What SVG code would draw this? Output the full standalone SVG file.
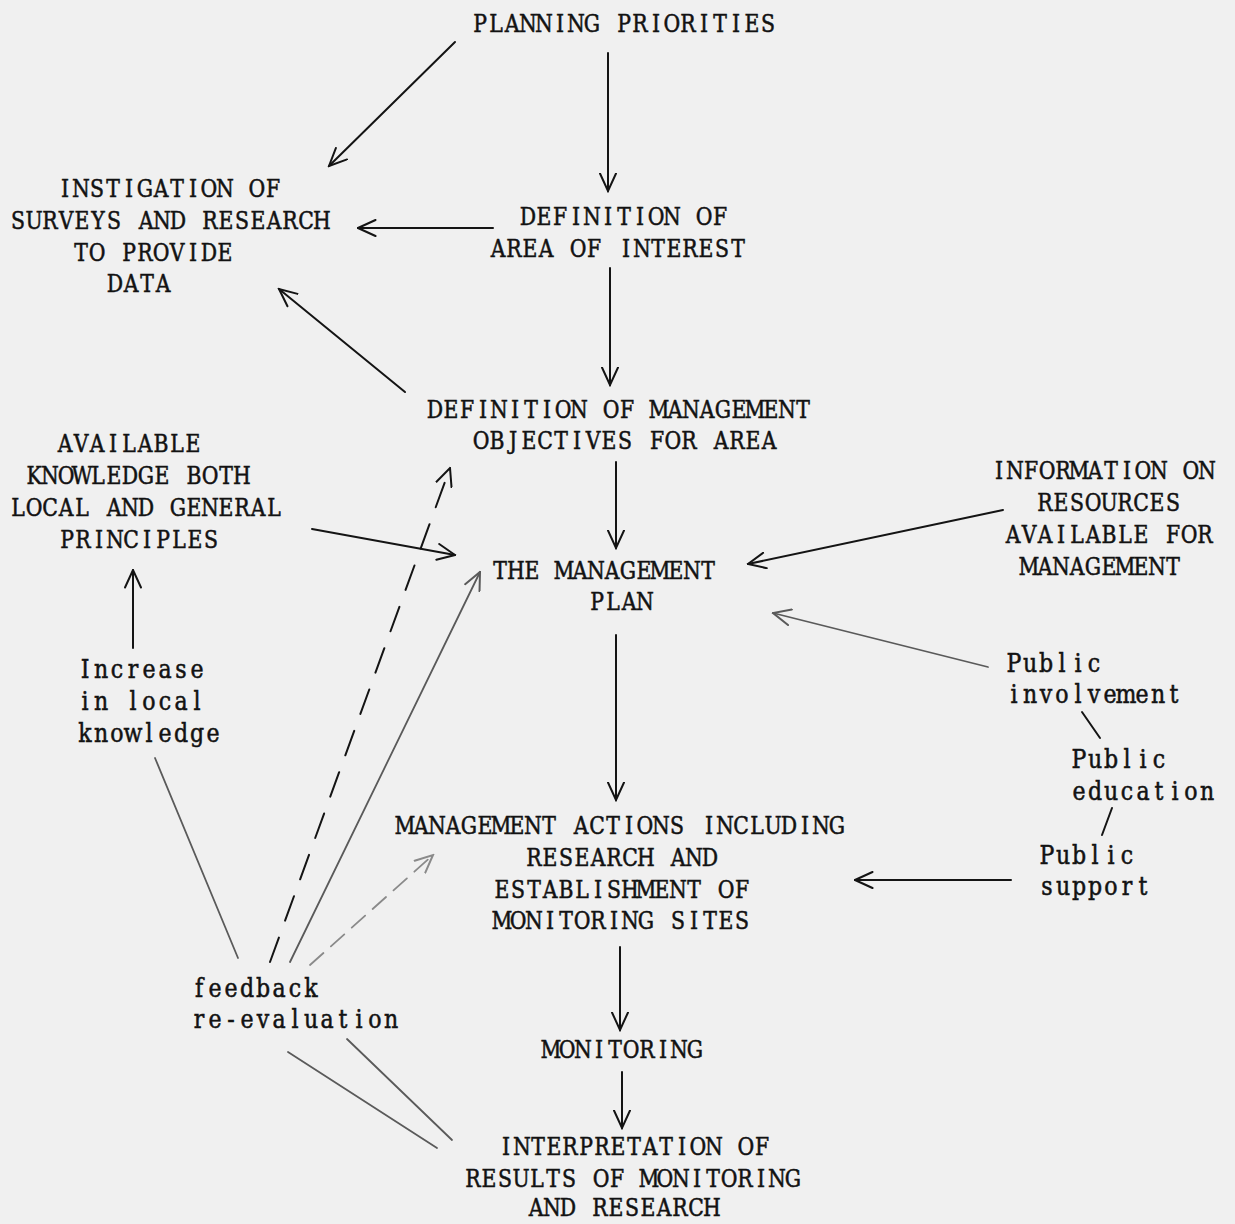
<svg xmlns="http://www.w3.org/2000/svg" width="1235" height="1224" viewBox="0 0 1235 1224">
<defs>
<style>
text{font-family:"DejaVu Serif","Liberation Serif",serif;font-size:24px;text-anchor:middle;fill:#121212;stroke:#121212;stroke-width:0.55px}
text.lo{font-size:26px}
.k{stroke:#141414;stroke-width:2;fill:none;stroke-linecap:round}
.g{stroke:#5a5a5a;stroke-width:1.8;fill:none;stroke-linecap:round}
.lg{stroke:#8a8a8a;stroke-width:1.8;fill:none;stroke-linecap:round}
</style>
<marker id="ak" viewBox="0 0 20 18" refX="18.5" refY="9" markerWidth="20" markerHeight="18" markerUnits="userSpaceOnUse" orient="auto">
<path d="M1,1 L18.5,9 L1,17" fill="none" stroke="#141414" stroke-width="2" stroke-linecap="round"/>
</marker>
<marker id="ag" viewBox="0 0 20 18" refX="18.5" refY="9" markerWidth="20" markerHeight="18" markerUnits="userSpaceOnUse" orient="auto">
<path d="M1,1 L18.5,9 L1,17" fill="none" stroke="#5a5a5a" stroke-width="2" stroke-linecap="round"/>
</marker>
<marker id="al" viewBox="0 0 20 18" refX="18.5" refY="9" markerWidth="20" markerHeight="18" markerUnits="userSpaceOnUse" orient="auto">
<path d="M1,1 L18.5,9 L1,17" fill="none" stroke="#8a8a8a" stroke-width="2" stroke-linecap="round"/>
</marker>
</defs>
<rect x="0" y="0" width="1235" height="1224" fill="#f0f0f0"/>

<g id="connectors">
<line class="k" x1="455" y1="42" x2="329" y2="166" marker-end="url(#ak)"/>
<line class="k" x1="608" y1="53" x2="608" y2="191" marker-end="url(#ak)"/>
<line class="k" x1="493" y1="228" x2="358" y2="228" marker-end="url(#ak)"/>
<line class="k" x1="610" y1="268" x2="610" y2="385" marker-end="url(#ak)"/>
<line class="k" x1="405" y1="392" x2="279" y2="289" marker-end="url(#ak)"/>
<line class="k" x1="616" y1="462" x2="616" y2="548" marker-end="url(#ak)"/>
<line class="k" x1="312" y1="529" x2="455" y2="555" marker-end="url(#ak)"/>
<line class="k" x1="1003" y1="510" x2="748" y2="564" marker-end="url(#ak)"/>
<line class="g" x1="988" y1="667" x2="773" y2="613" marker-end="url(#ag)"/>
<line class="k" x1="616" y1="635" x2="616" y2="800" marker-end="url(#ak)"/>
<line class="k" x1="1011" y1="880" x2="855" y2="880" marker-end="url(#ak)"/>
<line class="k" x1="620" y1="947" x2="620" y2="1030" marker-end="url(#ak)"/>
<line class="k" x1="622" y1="1072" x2="622" y2="1128" marker-end="url(#ak)"/>
<line class="k" x1="133" y1="648" x2="133" y2="570" marker-end="url(#ak)"/>
<line class="k" x1="1082" y1="712" x2="1100" y2="738"/>
<line class="k" x1="1112" y1="808" x2="1102" y2="835"/>
<line class="g" x1="238" y1="958" x2="155" y2="758"/>
<line class="k" x1="270" y1="962" x2="450" y2="468" stroke-dasharray="26 18" marker-end="url(#ak)"/>
<line class="g" x1="290" y1="962" x2="480" y2="572" marker-end="url(#ag)"/>
<line class="lg" x1="310" y1="965" x2="433" y2="855" stroke-dasharray="18 10" marker-end="url(#al)"/>
<line class="g" x1="288" y1="1052" x2="437" y2="1148"/>
<line class="g" x1="347" y1="1039" x2="452" y2="1140"/>
</g>

<g id="planning-priorities"><text transform="translate(473,32) scale(0.85,1)" x="8.24 27.06 45.89 64.71 83.53 102.36 121.18 140 158.83 177.65 196.48 215.3 234.12 252.95 271.77 290.59 309.42 328.24 347.06 365.89 384.71 403.53 422.36 441.18 460 478.83 497.65 516.48">PLANNING PRIORITIES</text></g>
<g id="instigation">
<text transform="translate(58,197) scale(0.85,1)" x="8.24 27.06 45.89 64.71 83.53 102.36 121.18 140 158.83 177.65 196.48 215.3 234.12 252.95 271.77 290.59 309.42 328.24 347.06 365.89 384.71 403.53 422.36 441.18 460 478.83 497.65 516.48">INSTIGATION OF</text>
<text transform="translate(11,229) scale(0.85,1)" x="8.24 27.06 45.89 64.71 83.53 102.36 121.18 140 158.83 177.65 196.48 215.3 234.12 252.95 271.77 290.59 309.42 328.24 347.06 365.89 384.71 403.53 422.36 441.18 460 478.83 497.65 516.48">SURVEYS AND RESEARCH</text>
<text transform="translate(74,261) scale(0.85,1)" x="8.24 27.06 45.89 64.71 83.53 102.36 121.18 140 158.83 177.65 196.48 215.3 234.12 252.95 271.77 290.59 309.42 328.24 347.06 365.89 384.71 403.53 422.36 441.18 460 478.83 497.65 516.48">TO PROVIDE</text>
<text transform="translate(108,292) scale(0.85,1)" x="8.24 27.06 45.89 64.71 83.53 102.36 121.18 140 158.83 177.65 196.48 215.3 234.12 252.95 271.77 290.59 309.42 328.24 347.06 365.89 384.71 403.53 422.36 441.18 460 478.83 497.65 516.48">DATA</text>
</g>
<g id="definition-area">
<text transform="translate(521,225) scale(0.85,1)" x="8.24 27.06 45.89 64.71 83.53 102.36 121.18 140 158.83 177.65 196.48 215.3 234.12 252.95 271.77 290.59 309.42 328.24 347.06 365.89 384.71 403.53 422.36 441.18 460 478.83 497.65 516.48">DEFINITION OF</text>
<text transform="translate(491,257) scale(0.85,1)" x="8.24 27.06 45.89 64.71 83.53 102.36 121.18 140 158.83 177.65 196.48 215.3 234.12 252.95 271.77 290.59 309.42 328.24 347.06 365.89 384.71 403.53 422.36 441.18 460 478.83 497.65 516.48">AREA OF INTEREST</text>
</g>
<g id="definition-objectives">
<text transform="translate(428,418) scale(0.85,1)" x="8.24 27.06 45.89 64.71 83.53 102.36 121.18 140 158.83 177.65 196.48 215.3 234.12 252.95 271.77 290.59 309.42 328.24 347.06 365.89 384.71 403.53 422.36 441.18 460 478.83 497.65 516.48">DEFINITION OF MANAGEMENT</text>
<text transform="translate(474,449) scale(0.85,1)" x="8.24 27.06 45.89 64.71 83.53 102.36 121.18 140 158.83 177.65 196.48 215.3 234.12 252.95 271.77 290.59 309.42 328.24 347.06 365.89 384.71 403.53 422.36 441.18 460 478.83 497.65 516.48">OBJECTIVES FOR AREA</text>
</g>
<g id="available-knowledge">
<text transform="translate(58,452) scale(0.85,1)" x="8.24 27.06 45.89 64.71 83.53 102.36 121.18 140 158.83 177.65 196.48 215.3 234.12 252.95 271.77 290.59 309.42 328.24 347.06 365.89 384.71 403.53 422.36 441.18 460 478.83 497.65 516.48">AVAILABLE</text>
<text transform="translate(27,484) scale(0.85,1)" x="8.24 27.06 45.89 64.71 83.53 102.36 121.18 140 158.83 177.65 196.48 215.3 234.12 252.95 271.77 290.59 309.42 328.24 347.06 365.89 384.71 403.53 422.36 441.18 460 478.83 497.65 516.48">KNOWLEDGE BOTH</text>
<text transform="translate(11,516) scale(0.85,1)" x="8.24 27.06 45.89 64.71 83.53 102.36 121.18 140 158.83 177.65 196.48 215.3 234.12 252.95 271.77 290.59 309.42 328.24 347.06 365.89 384.71 403.53 422.36 441.18 460 478.83 497.65 516.48">LOCAL AND GENERAL</text>
<text transform="translate(60,548) scale(0.85,1)" x="8.24 27.06 45.89 64.71 83.53 102.36 121.18 140 158.83 177.65 196.48 215.3 234.12 252.95 271.77 290.59 309.42 328.24 347.06 365.89 384.71 403.53 422.36 441.18 460 478.83 497.65 516.48">PRINCIPLES</text>
</g>
<g id="management-plan">
<text transform="translate(493,579) scale(0.85,1)" x="8.24 27.06 45.89 64.71 83.53 102.36 121.18 140 158.83 177.65 196.48 215.3 234.12 252.95 271.77 290.59 309.42 328.24 347.06 365.89 384.71 403.53 422.36 441.18 460 478.83 497.65 516.48">THE MANAGEMENT</text>
<text transform="translate(590,610) scale(0.85,1)" x="8.24 27.06 45.89 64.71 83.53 102.36 121.18 140 158.83 177.65 196.48 215.3 234.12 252.95 271.77 290.59 309.42 328.24 347.06 365.89 384.71 403.53 422.36 441.18 460 478.83 497.65 516.48">PLAN</text>
</g>
<g id="information-resources">
<text transform="translate(992,479) scale(0.85,1)" x="8.24 27.06 45.89 64.71 83.53 102.36 121.18 140 158.83 177.65 196.48 215.3 234.12 252.95 271.77 290.59 309.42 328.24 347.06 365.89 384.71 403.53 422.36 441.18 460 478.83 497.65 516.48">INFORMATION ON</text>
<text transform="translate(1038,511) scale(0.85,1)" x="8.24 27.06 45.89 64.71 83.53 102.36 121.18 140 158.83 177.65 196.48 215.3 234.12 252.95 271.77 290.59 309.42 328.24 347.06 365.89 384.71 403.53 422.36 441.18 460 478.83 497.65 516.48">RESOURCES</text>
<text transform="translate(1006,543) scale(0.85,1)" x="8.24 27.06 45.89 64.71 83.53 102.36 121.18 140 158.83 177.65 196.48 215.3 234.12 252.95 271.77 290.59 309.42 328.24 347.06 365.89 384.71 403.53 422.36 441.18 460 478.83 497.65 516.48">AVAILABLE FOR</text>
<text transform="translate(1022,575) scale(0.85,1)" x="8.24 27.06 45.89 64.71 83.53 102.36 121.18 140 158.83 177.65 196.48 215.3 234.12 252.95 271.77 290.59 309.42 328.24 347.06 365.89 384.71 403.53 422.36 441.18 460 478.83 497.65 516.48">MANAGEMENT</text>
</g>
<g id="increase-knowledge">
<text class="lo" transform="translate(78,678) scale(0.85,1)" x="8.24 27.06 45.89 64.71 83.53 102.36 121.18 140 158.83 177.65 196.48 215.3 234.12 252.95 271.77 290.59 309.42 328.24 347.06 365.89 384.71 403.53 422.36 441.18 460 478.83 497.65 516.48">Increase</text>
<text class="lo" transform="translate(78,710) scale(0.85,1)" x="8.24 27.06 45.89 64.71 83.53 102.36 121.18 140 158.83 177.65 196.48 215.3 234.12 252.95 271.77 290.59 309.42 328.24 347.06 365.89 384.71 403.53 422.36 441.18 460 478.83 497.65 516.48">in local</text>
<text class="lo" transform="translate(78,742) scale(0.85,1)" x="8.24 27.06 45.89 64.71 83.53 102.36 121.18 140 158.83 177.65 196.48 215.3 234.12 252.95 271.77 290.59 309.42 328.24 347.06 365.89 384.71 403.53 422.36 441.18 460 478.83 497.65 516.48">knowledge</text>
</g>
<g id="public-involvement">
<text class="lo" transform="translate(1007,672) scale(0.85,1)" x="8.24 27.06 45.89 64.71 83.53 102.36 121.18 140 158.83 177.65 196.48 215.3 234.12 252.95 271.77 290.59 309.42 328.24 347.06 365.89 384.71 403.53 422.36 441.18 460 478.83 497.65 516.48">Public</text>
<text class="lo" transform="translate(1007,703) scale(0.85,1)" x="8.24 27.06 45.89 64.71 83.53 102.36 121.18 140 158.83 177.65 196.48 215.3 234.12 252.95 271.77 290.59 309.42 328.24 347.06 365.89 384.71 403.53 422.36 441.18 460 478.83 497.65 516.48">involvement</text>
</g>
<g id="public-education">
<text class="lo" transform="translate(1072,768) scale(0.85,1)" x="8.24 27.06 45.89 64.71 83.53 102.36 121.18 140 158.83 177.65 196.48 215.3 234.12 252.95 271.77 290.59 309.42 328.24 347.06 365.89 384.71 403.53 422.36 441.18 460 478.83 497.65 516.48">Public</text>
<text class="lo" transform="translate(1072,800) scale(0.85,1)" x="8.24 27.06 45.89 64.71 83.53 102.36 121.18 140 158.83 177.65 196.48 215.3 234.12 252.95 271.77 290.59 309.42 328.24 347.06 365.89 384.71 403.53 422.36 441.18 460 478.83 497.65 516.48">education</text>
</g>
<g id="public-support">
<text class="lo" transform="translate(1040,864) scale(0.85,1)" x="8.24 27.06 45.89 64.71 83.53 102.36 121.18 140 158.83 177.65 196.48 215.3 234.12 252.95 271.77 290.59 309.42 328.24 347.06 365.89 384.71 403.53 422.36 441.18 460 478.83 497.65 516.48">Public</text>
<text class="lo" transform="translate(1040,895) scale(0.85,1)" x="8.24 27.06 45.89 64.71 83.53 102.36 121.18 140 158.83 177.65 196.48 215.3 234.12 252.95 271.77 290.59 309.42 328.24 347.06 365.89 384.71 403.53 422.36 441.18 460 478.83 497.65 516.48">support</text>
</g>
<g id="management-actions">
<text transform="translate(398,834) scale(0.85,1)" x="8.24 27.06 45.89 64.71 83.53 102.36 121.18 140 158.83 177.65 196.48 215.3 234.12 252.95 271.77 290.59 309.42 328.24 347.06 365.89 384.71 403.53 422.36 441.18 460 478.83 497.65 516.48">MANAGEMENT ACTIONS INCLUDING</text>
<text transform="translate(527,866) scale(0.85,1)" x="8.24 27.06 45.89 64.71 83.53 102.36 121.18 140 158.83 177.65 196.48 215.3 234.12 252.95 271.77 290.59 309.42 328.24 347.06 365.89 384.71 403.53 422.36 441.18 460 478.83 497.65 516.48">RESEARCH AND</text>
<text transform="translate(495,898) scale(0.85,1)" x="8.24 27.06 45.89 64.71 83.53 102.36 121.18 140 158.83 177.65 196.48 215.3 234.12 252.95 271.77 290.59 309.42 328.24 347.06 365.89 384.71 403.53 422.36 441.18 460 478.83 497.65 516.48">ESTABLISHMENT OF</text>
<text transform="translate(495,929) scale(0.85,1)" x="8.24 27.06 45.89 64.71 83.53 102.36 121.18 140 158.83 177.65 196.48 215.3 234.12 252.95 271.77 290.59 309.42 328.24 347.06 365.89 384.71 403.53 422.36 441.18 460 478.83 497.65 516.48">MONITORING SITES</text>
</g>
<g id="monitoring"><text transform="translate(544,1058) scale(0.85,1)" x="8.24 27.06 45.89 64.71 83.53 102.36 121.18 140 158.83 177.65 196.48 215.3 234.12 252.95 271.77 290.59 309.42 328.24 347.06 365.89 384.71 403.53 422.36 441.18 460 478.83 497.65 516.48">MONITORING</text></g>
<g id="interpretation">
<text transform="translate(499,1155) scale(0.85,1)" x="8.24 27.06 45.89 64.71 83.53 102.36 121.18 140 158.83 177.65 196.48 215.3 234.12 252.95 271.77 290.59 309.42 328.24 347.06 365.89 384.71 403.53 422.36 441.18 460 478.83 497.65 516.48">INTERPRETATION OF</text>
<text transform="translate(466,1187) scale(0.85,1)" x="8.24 27.06 45.89 64.71 83.53 102.36 121.18 140 158.83 177.65 196.48 215.3 234.12 252.95 271.77 290.59 309.42 328.24 347.06 365.89 384.71 403.53 422.36 441.18 460 478.83 497.65 516.48">RESULTS OF MONITORING</text>
<text transform="translate(529,1216) scale(0.85,1)" x="8.24 27.06 45.89 64.71 83.53 102.36 121.18 140 158.83 177.65 196.48 215.3 234.12 252.95 271.77 290.59 309.42 328.24 347.06 365.89 384.71 403.53 422.36 441.18 460 478.83 497.65 516.48">AND RESEARCH</text>
</g>
<g id="feedback">
<text class="lo" transform="translate(192,997) scale(0.85,1)" x="8.24 27.06 45.89 64.71 83.53 102.36 121.18 140 158.83 177.65 196.48 215.3 234.12 252.95 271.77 290.59 309.42 328.24 347.06 365.89 384.71 403.53 422.36 441.18 460 478.83 497.65 516.48">feedback</text>
<text class="lo" transform="translate(192,1028) scale(0.85,1)" x="8.24 27.06 45.89 64.71 83.53 102.36 121.18 140 158.83 177.65 196.48 215.3 234.12 252.95 271.77 290.59 309.42 328.24 347.06 365.89 384.71 403.53 422.36 441.18 460 478.83 497.65 516.48">re-evaluation</text>
</g>
</svg>
